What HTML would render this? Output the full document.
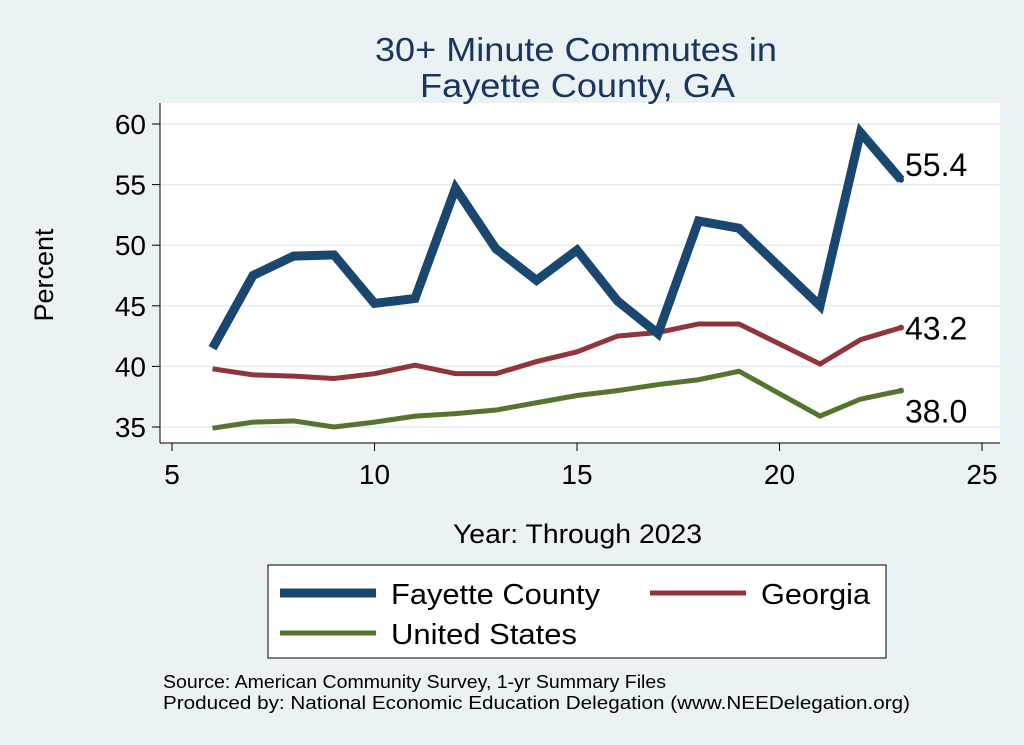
<!DOCTYPE html>
<html><head><meta charset="utf-8"><style>
body{margin:0;background:#eaf2f3;}
svg{display:block;font-family:"Liberation Sans",Arial,sans-serif;}
</style></head><body>
<svg id="chart" width="1024" height="745">
<rect x="0" y="0" width="1024" height="745" fill="#eaf2f3"/>
<rect x="160" y="103" width="840" height="340" fill="#ffffff"/>
<text x="375" y="61" font-size="33" fill="#1a3560" textLength="402" lengthAdjust="spacingAndGlyphs">30+ Minute Commutes in</text>
<text x="420" y="97" font-size="33" fill="#1a3560" textLength="315" lengthAdjust="spacingAndGlyphs">Fayette County, GA</text>
<g id="grid"></g><g id="axes"></g><g id="series"></g>
<text x="53" y="275" font-size="27" text-anchor="middle" transform="rotate(-90 53 275)">Percent</text>
<text x="453" y="543" font-size="27" textLength="249" lengthAdjust="spacingAndGlyphs">Year: Through 2023</text>
<g>
<rect x="268" y="565" width="618" height="93" fill="#fff" stroke="#000" stroke-width="1"/>
<line x1="280" y1="593" x2="376" y2="593" stroke="#1a476f" stroke-width="9"/>
<text x="391" y="604" font-size="29" textLength="209" lengthAdjust="spacingAndGlyphs">Fayette County</text>
<line x1="650" y1="593" x2="746" y2="593" stroke="#90353b" stroke-width="5"/>
<text x="761" y="604" font-size="29" textLength="109" lengthAdjust="spacingAndGlyphs">Georgia</text>
<line x1="280" y1="633" x2="376" y2="633" stroke="#55752f" stroke-width="5"/>
<text x="391" y="644" font-size="29" textLength="186" lengthAdjust="spacingAndGlyphs">United States</text>
</g>
<text x="163" y="688" font-size="18" textLength="503" lengthAdjust="spacingAndGlyphs">Source: American Community Survey, 1-yr Summary Files</text>
<text x="163" y="709" font-size="18" textLength="747" lengthAdjust="spacingAndGlyphs">Produced by: National Economic Education Delegation (www.NEEDelegation.org)</text>
</svg>
<script>
const years=[6,7,8,9,10,11,12,13,14,15,16,17,18,19,21,22,23];
const fayette=[41.5,47.5,49.1,49.2,45.2,45.6,54.7,49.7,47.1,49.6,45.4,42.7,52.0,51.4,45.0,59.3,55.4];
const georgia=[39.8,39.3,39.2,39.0,39.4,40.1,39.4,39.4,40.4,41.2,42.5,42.8,43.5,43.5,40.2,42.2,43.2];
const usa=[34.9,35.4,35.5,35.0,35.4,35.9,36.1,36.4,37.0,37.6,38.0,38.5,38.9,39.6,35.9,37.3,38.0];
const xTicks=[5,10,15,20,25];
const yTicks=[35,40,45,50,55,60];
const NS="http://www.w3.org/2000/svg";
const X=v=>172+(v-5)*40.5;
const Y=v=>427-(v-35)*12.12;
function mk(tag,attrs,parent,txt){const e=document.createElementNS(NS,tag);for(const k in attrs)e.setAttribute(k,attrs[k]);if(txt!==undefined)e.textContent=txt;document.getElementById(parent).appendChild(e);return e;}
yTicks.forEach(t=>{
 const g=mk('line',{x1:160,x2:1000,y1:Y(t),y2:Y(t),stroke:'#e6ecee','stroke-width':1.5},'grid');
 
 
 const tk=mk('line',{x1:152,x2:160,y1:Y(t),y2:Y(t),stroke:'#000'},'axes');
 
 
 const l=mk('text',{x:146,y:Y(t)+10,'font-size':28,'text-anchor':'end'},'axes',t);
 
 
});
xTicks.forEach(t=>{
 const tk=mk('line',{x1:X(t),x2:X(t),y1:443,y2:451,stroke:'#000'},'axes');
 
 
 const l=mk('text',{x:X(t),y:484,'font-size':28,'text-anchor':'middle'},'axes',t);
 
 
});
const ya=mk('line',{x1:160,x2:160,y1:103,y2:443,stroke:'#000'},'axes');


const xa=mk('line',{x1:160,x2:1000,y1:443,y2:443,stroke:'#000'},'axes');


function series(vals,color,w,name,lblDy){
 const p=mk('polyline',{points:years.map((y,i)=>X(y)+','+Y(vals[i])).join(' '),fill:'none',stroke:color,'stroke-width':w,'stroke-linejoin':'miter'},'series');
 
 
 const last=vals[vals.length-1],lx=X(years[years.length-1]);
 const d=mk('circle',{cx:lx,cy:Y(last),r:3,fill:color},'series');
 
 
 const t=mk('text',{x:lx+4,y:Y(last)+lblDy,'font-size':32},'series',last.toFixed(1));
 
 
}
series(usa,'#55752f',5,'us',32);
series(georgia,'#90353b',5,'georgia',12);
series(fayette,'#1a476f',9,'fayette',-4);
</script>
</body></html>
